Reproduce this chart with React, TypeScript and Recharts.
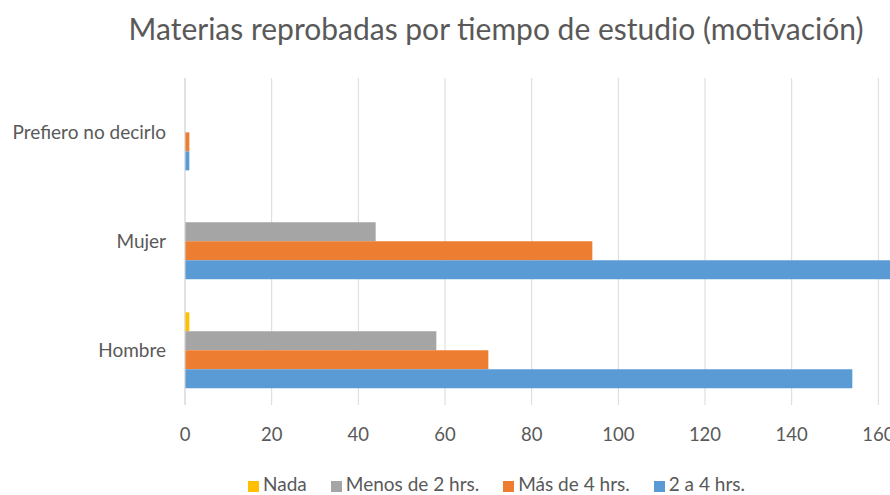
import { BarChart, Bar, XAxis, YAxis, CartesianGrid, Legend } from "recharts"

const categories = ["Prefiero no decirlo", "Mujer", "Hombre"]
const nada = [0, 0, 1]
const menosDe2 = [0, 44, 58]
const masDe4 = [1, 94, 70]
const dosA4 = [1, 170, 154]
const xTicks = [0, 20, 40, 60, 80, 100, 120, 140, 160, 180]
const seriesOrder = ["nada", "menos", "mas", "dos"]

const data = categories.map((name, i) => ({
  name,
  nada: nada[i],
  menos: menosDe2[i],
  mas: masDe4[i],
  dos: dosA4[i],
}))

const FONT = "Lato, 'DejaVu Sans', sans-serif"
const TEXT = "#595959"

export default function App() {
  return (
    <div style={{ position: "fixed", left: 0, top: 0, width: 890, height: 495, overflow: "hidden", background: "#fff", fontFamily: FONT }}>
      <div style={{ position: "absolute", top: 10, left: 0, width: 992, textAlign: "center", fontSize: 30, color: TEXT, zIndex: 1 }}>
        Materias reprobadas por tiempo de estudio (motivación)
      </div>
      <BarChart
        width={990}
        height={495}
        data={data}
        layout="vertical"
        margin={{ top: 78, right: 25, bottom: 0, left: 0 }}
        barCategoryGap="15%"
        barGap={0}
      >
        <CartesianGrid horizontal={false} stroke="#d9d9d9" />
        <XAxis
          type="number"
          domain={[0, 180]}
          ticks={xTicks}
          axisLine={false}
          tickLine={false}
          tickMargin={17}
          height={67}
          tick={{ fill: TEXT, fontSize: 18.5, fontFamily: FONT }}
        />
        <YAxis
          type="category"
          dataKey="name"
          width={185}
          axisLine={{ stroke: "#d9d9d9" }}
          tickLine={false}
          tickMargin={13}
          tick={{ fill: TEXT, fontSize: 19, fontFamily: FONT }}
        />
        <Legend
          verticalAlign="bottom"
          iconType="square"
          iconSize={11}
          itemSorter={(item: any) => seriesOrder.indexOf(item.dataKey)}
          wrapperStyle={{ fontSize: 19, color: TEXT, fontFamily: FONT, paddingBottom: 0, left: 26 }}
          formatter={(v) => <span style={{ color: TEXT, marginRight: 14 }}>{v}</span>}
        />
        <Bar dataKey="nada" name="Nada" fill="#FFC000" isAnimationActive={false} />
        <Bar dataKey="menos" name="Menos de 2 hrs." fill="#A5A5A5" isAnimationActive={false} />
        <Bar dataKey="mas" name="Más de 4 hrs." fill="#ED7D31" isAnimationActive={false} />
        <Bar dataKey="dos" name="2 a 4 hrs." fill="#5B9BD5" isAnimationActive={false} />
      </BarChart>
    </div>
  )
}
